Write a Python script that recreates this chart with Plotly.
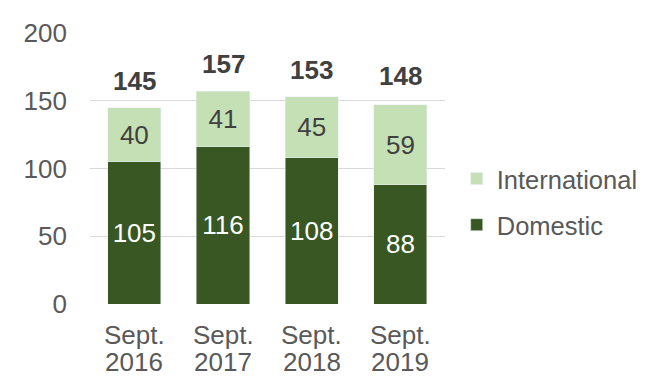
import plotly.graph_objects as go

months = ["Sept.", "Sept.", "Sept.", "Sept."]
years = ["2016", "2017", "2018", "2019"]
categories = [f"{m} {y}" for m, y in zip(months, years)]
domestic = [105, 116, 108, 88]
international = [40, 41, 45, 59]
totals = [145, 157, 153, 148]

dark = "#385723"
light = "#c5e0b4"
font = "Liberation Sans, Arial, sans-serif"
fs = 26

fig = go.Figure()
fig.add_trace(go.Bar(
    x=categories, y=domestic, name="Domestic", marker_color=dark,
    text=[str(v) for v in domestic], textposition="inside", insidetextanchor="middle",
    textfont=dict(color="white", size=fs, family=font), legendgroup="d", legendrank=2,
))
fig.add_trace(go.Bar(
    x=categories, y=international, name="International", marker_color=light,
    text=[str(v) for v in international], textposition="inside", insidetextanchor="middle",
    textfont=dict(color="#404040", size=fs, family=font), legendgroup="i", legendrank=1,
))
for c, t in zip(categories, totals):
    fig.add_annotation(x=c, y=t, text=f"<b>{t}</b>", showarrow=False, yanchor="bottom",
                       yshift=10, font=dict(size=fs, color="#404040", family=font))
for c, m, y in zip(categories, months, years):
    fig.add_annotation(x=c, y=0, yref="paper", text=m, showarrow=False, yanchor="middle",
                       yshift=-31, font=dict(size=fs, color="#595959", family=font))
    fig.add_annotation(x=c, y=0, yref="paper", text=y, showarrow=False, yanchor="middle",
                       yshift=-58, font=dict(size=fs, color="#595959", family=font))

fig.update_layout(
    barmode="stack", bargap=0.4,
    width=646, height=376,
    margin=dict(l=90, r=198, t=33, b=72),
    plot_bgcolor="white", paper_bgcolor="white",
    font=dict(family=font, size=fs, color="#595959"),
    uniformtext=dict(mode="show", minsize=fs),
    legend=dict(xref="container", yref="container", x=0.707, y=0.4628,
                yanchor="middle", xanchor="left",
                traceorder="grouped", tracegroupgap=10,
                font=dict(size=25.5, color="#595959", family=font)),
    showlegend=True,
)
fig.update_yaxes(range=[0, 200], tickvals=[0, 50, 100, 150, 200], showgrid=True,
                 gridcolor="#d9d9d9", gridwidth=1, zeroline=False, showline=False,
                 ticks="", ticklen=0, ticklabelstandoff=22,
                 tickfont=dict(size=fs, color="#595959"))
fig.update_xaxes(showline=False, ticks="", showticklabels=False)

fig.write_html("out.html")
